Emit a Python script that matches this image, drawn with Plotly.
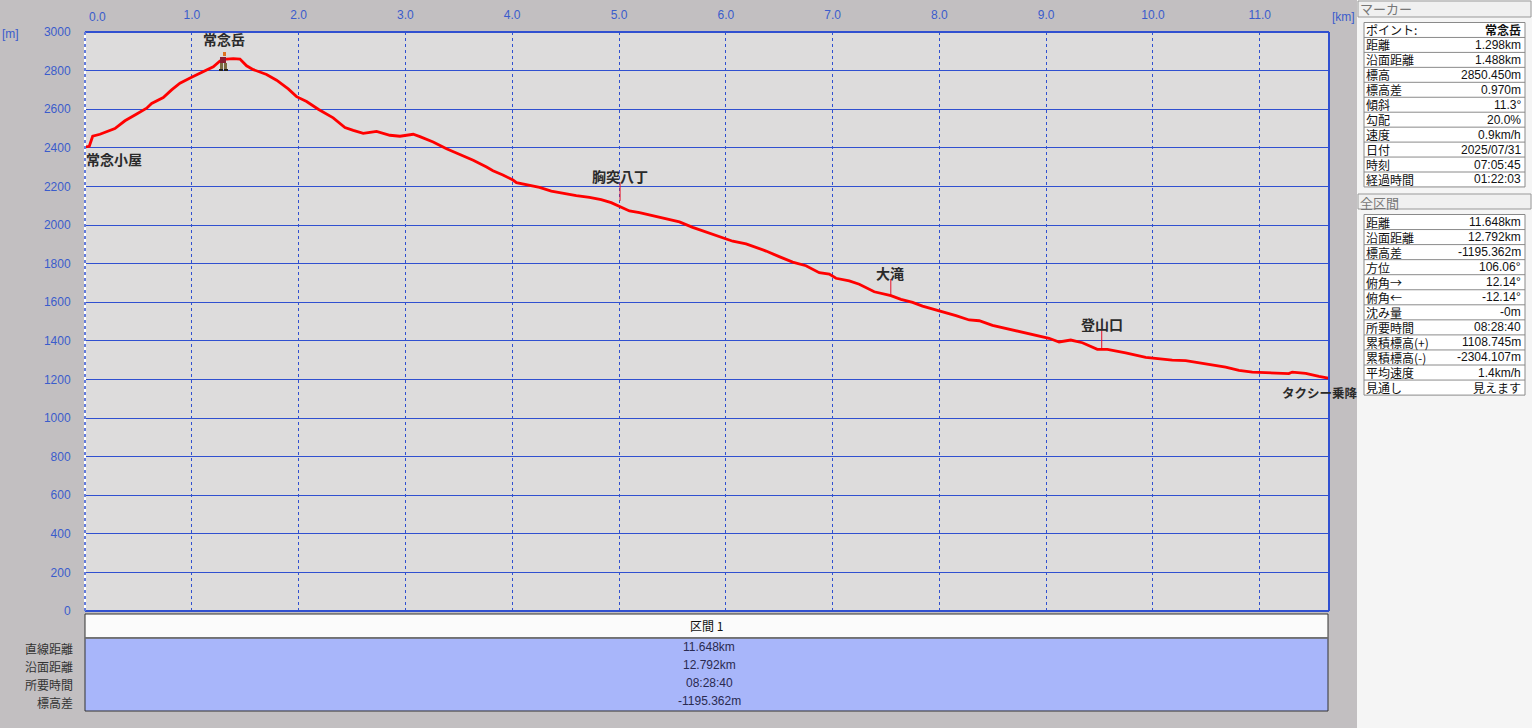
import plotly.graph_objects as go

W, H = 1532, 728
L, R, T, B = 85, 1329, 32, 611

# Elevation profile
km = [0.009, 0.04, 0.072, 0.14, 0.28, 0.374, 0.484, 0.577, 0.624, 0.733, 0.811, 0.889, 0.998, 1.108, 1.201,
      1.264, 1.326, 1.388, 1.451, 1.513, 1.576, 1.7, 1.794, 1.903, 1.981, 2.075, 2.184, 2.324, 2.434, 2.512,
      2.605, 2.668, 2.73, 2.855, 2.949, 3.073, 3.136, 3.26, 3.385, 3.51, 3.635, 3.76, 3.82, 3.913, 4.007,
      4.04, 4.147, 4.256, 4.366, 4.474, 4.6, 4.724, 4.833, 4.927, 5.005, 5.098, 5.192, 5.316, 5.441, 5.566,
      5.69, 5.815, 5.987, 6.065, 6.19, 6.314, 6.377, 6.5, 6.626, 6.751, 6.875, 6.969, 7.032, 7.156, 7.25,
      7.39, 7.546, 7.64, 7.749, 7.842, 8.0, 8.155, 8.279, 8.373, 8.497, 8.684, 8.871, 8.996, 9.027, 9.121,
      9.23, 9.339, 9.479, 9.573, 9.744, 9.932, 10.18, 10.306, 10.493, 10.68, 10.805, 10.93, 11.054, 11.179,
      11.272, 11.304, 11.43, 11.554, 11.64]
elev = [2405, 2408, 2460, 2470, 2500, 2540, 2575, 2605, 2630, 2660, 2700, 2735, 2765, 2795, 2820,
        2850, 2860, 2862, 2860, 2825, 2805, 2780, 2750, 2705, 2665, 2640, 2600, 2555, 2505, 2490,
        2475, 2480, 2485, 2465, 2460, 2470, 2458, 2430, 2395, 2365, 2335, 2300, 2281, 2259, 2233,
        2219, 2209, 2195, 2176, 2164, 2152, 2143, 2131, 2116, 2098, 2073, 2064, 2047, 2030, 2016,
        1988, 1965, 1931, 1916, 1902, 1880, 1865, 1836, 1808, 1789, 1753, 1746, 1724, 1710, 1693,
        1654, 1634, 1615, 1599, 1580, 1556, 1530, 1508, 1504, 1480, 1456, 1435, 1415, 1413, 1394,
        1404, 1390, 1356, 1356, 1338, 1314, 1300, 1297, 1280, 1263, 1247, 1238, 1235, 1230,
        1230, 1238, 1231, 1216, 1207]

x_ticks = [1, 2, 3, 4, 5, 6, 7, 8, 9, 10, 11]
x_tick_labels = ["1.0", "2.0", "3.0", "4.0", "5.0", "6.0", "7.0", "8.0", "9.0", "10.0", "11.0"]
y_ticks = list(range(0, 3001, 200))

place_names = ["常念岳", "常念小屋", "胸突八丁", "大滝", "登山口", "タクシー乗降"]
place_km = [1.30, 0.27, 5.01, 7.54, 9.52, 11.56]
place_elev = [2964, 2342, 2254, 1751, 1487, 1130]
place_sizes = [14, 14, 14, 14, 14, 12.5]

stem_km = [5.01, 7.545, 9.52]
stem_top = [2220, 1720, 1460]
stem_bottom = [2125, 1630, 1360]

marker_labels = ["ポイント:", "距離", "沿面距離", "標高", "標高差", "傾斜", "勾配", "速度", "日付", "時刻", "経過時間"]
marker_values = ["常念岳", "1.298km", "1.488km", "2850.450m", "0.970m", "11.3°", "20.0%", "0.9km/h",
                 "2025/07/31", "07:05:45", "01:22:03"]
total_labels = ["距離", "沿面距離", "標高差", "方位", "俯角→", "俯角←", "沈み量", "所要時間",
                "累積標高(+)", "累積標高(-)", "平均速度", "見通し"]
total_values = ["11.648km", "12.792km", "-1195.362m", "106.06°", "12.14°", "-12.14°", "-0m", "08:28:40",
                "1108.745m", "-2304.107m", "1.4km/h", "見えます"]
section_labels = ["直線距離", "沿面距離", "所要時間", "標高差"]
section_values = ["11.648km", "12.792km", "08:28:40", "-1195.362m"]

BG = "#c2bfc1"
BLUE = "#3050d0"
TICK = "#3a5ccc"
DARK = "#222222"
NUM = "Liberation Sans, Noto Sans CJK JP"
CJK = "Noto Sans CJK JP, Liberation Sans"


def px(x):
    return x / W


def py(y):
    return 1 - y / H


def rect(x0, y0, x1, y1, fill, line=None, width=1, layer="above"):
    return dict(type="rect", xref="paper", yref="paper", x0=px(x0), x1=px(x1), y0=py(y1), y1=py(y0),
                fillcolor=fill, line=dict(color=line or fill, width=width if line else 0), layer=layer)


def hline(x0, x1, y, color, width=1):
    return dict(type="line", xref="paper", yref="paper", x0=px(x0), x1=px(x1), y0=py(y), y1=py(y),
                line=dict(color=color, width=width))


def vline(x, y0, y1, color, width=1, dash="solid"):
    return dict(type="line", xref="paper", yref="paper", x0=px(x), x1=px(x), y0=py(y0), y1=py(y1),
                line=dict(color=color, width=width, dash=dash))


def label(x, y, text, anchor="left", size=12, color=DARK, family=CJK, bold=False):
    return dict(xref="paper", yref="paper", x=px(x), y=py(y), text=f"<b>{text}</b>" if bold else text,
                showarrow=False, xanchor=anchor, yanchor="middle", borderpad=0,
                font=dict(size=size, color=color, family=family))


fig = go.Figure()

for k, top, bot in zip(stem_km, stem_top, stem_bottom):
    fig.add_trace(go.Scatter(x=[k, k], y=[top, bot], mode="lines", line=dict(color="#e8102a", width=1),
                             hoverinfo="skip", showlegend=False))
fig.add_trace(go.Scatter(x=km, y=elev, mode="lines", line=dict(color="#ff0000", width=2.8),
                         name="標高", showlegend=False))

shapes = []
ann = []

# plot frame
shapes += [hline(L, R, T, BLUE, 2), hline(L, R, B, BLUE, 2), vline(R, T, B, BLUE, 2),
           vline(L, T, B, "#ffffff", 2), vline(L, T, B, BLUE, 1.5, "dot")]

# hiker figure
shapes += [rect(223, 52, 226, 56, "#e07020"), rect(220, 57, 226, 63, "#8a1c30"),
           rect(220, 63, 223, 69, "#7a6a40"), rect(224, 63, 227, 69, "#7a6a40"),
           rect(219, 69, 223, 71, "#222222"), rect(224, 69, 228, 71, "#222222")]

# right side panel
shapes.append(rect(1357, 0, W, H, "#f5f5f5", layer="below"))
shapes.append(rect(1358, 1, 1531, 17, "#f0f0f0", "#999999"))
shapes.append(rect(1358, 194, 1531, 209, "#f0f0f0", "#999999"))
ann.append(label(1359, 9, "マーカー", color="#777777", size=13))
ann.append(label(1359, 202, "全区間", color="#777777", size=13))


def table(y0, rh, labels, values):
    n = len(labels)
    shapes.append(rect(1364, y0, 1525, y0 + rh * n, "#ffffff", "#8a8a8a"))
    for i in range(1, n):
        shapes.append(hline(1364, 1525, y0 + rh * i, "#8a8a8a"))
    for i, (a, b) in enumerate(zip(labels, values)):
        yc = y0 + rh * (i + 0.5)
        ann.append(label(1365, yc, a, color="#111111"))
        bold = b == "常念岳"
        cjk_value = bold or b == "見えます"
        ann.append(label(1522, yc, b, anchor="right", size=12,
                         family=CJK if cjk_value else NUM, color="#111111", bold=bold))


table(22.5, 14.95, marker_labels, marker_values)
table(214.5, 15.05, total_labels, total_values)

# section table beneath the plot
shapes.append(rect(85, 614, 1328, 638, "#fbfbfb", "#333333"))
shapes.append(rect(85, 638, 1328, 711, "#a8b6fa", "#333333"))
shapes.append(hline(85, 1328, 638, "#777777", 1.5))
ann.append(label(706, 625, "区間 1", anchor="center", color="#111111"))
for yc, a, b in zip([648, 666, 684, 702], section_labels, section_values):
    ann.append(label(74, yc, a, anchor="right", color="#333333"))
    ann.append(label(709, yc - 1, b, anchor="center", size=12, family=NUM, color="#2a2a50"))

# axis extras
ann.append(label(97, 17, "0.0", anchor="center", size=12, color=TICK, family=NUM))
ann.append(label(1, 34, "[m]", size=12, color=TICK, family=NUM))
ann.append(label(1331, 17, "[km]", size=12, color=TICK, family=NUM))

# waypoint names in data coordinates
for n, k, e, s in zip(place_names, place_km, place_elev, place_sizes):
    ann.append(dict(xref="x", yref="y", x=k, y=e, text=f"<b>{n}</b>", showarrow=False, xanchor="center",
                    yanchor="middle", borderpad=0, font=dict(size=s, color="#2a2a2a", family=CJK)))

fig.update_layout(
    width=W, height=H, autosize=False,
    margin=dict(l=0, r=0, t=0, b=0, autoexpand=False),
    paper_bgcolor=BG, plot_bgcolor="#dddcdc",
    showlegend=False,
    shapes=shapes, annotations=ann,
    font=dict(family=NUM, size=12, color=TICK),
    xaxis=dict(domain=[px(L), px(R)], range=[0, 11.648], side="top", tickmode="array",
               tickvals=x_ticks, ticktext=x_tick_labels, showgrid=True, gridcolor=BLUE, griddash="dot",
               gridwidth=1, zeroline=False, showline=False, ticks="outside", ticklen=7,
               tickcolor="rgba(0,0,0,0)", tickfont=dict(size=12, color=TICK, family=NUM)),
    yaxis=dict(domain=[py(B), py(T)], range=[0, 3000], tickmode="array", tickvals=y_ticks,
               showgrid=True, gridcolor=BLUE, gridwidth=1, zeroline=False, showline=False,
               ticks="outside", ticklen=11, tickcolor="rgba(0,0,0,0)",
               tickfont=dict(size=12, color=TICK, family=NUM)),
)

fig.write_html("out.html", config=dict(displayModeBar=False),
               post_script="document.body.style.margin='0';document.body.style.overflow='hidden';")
